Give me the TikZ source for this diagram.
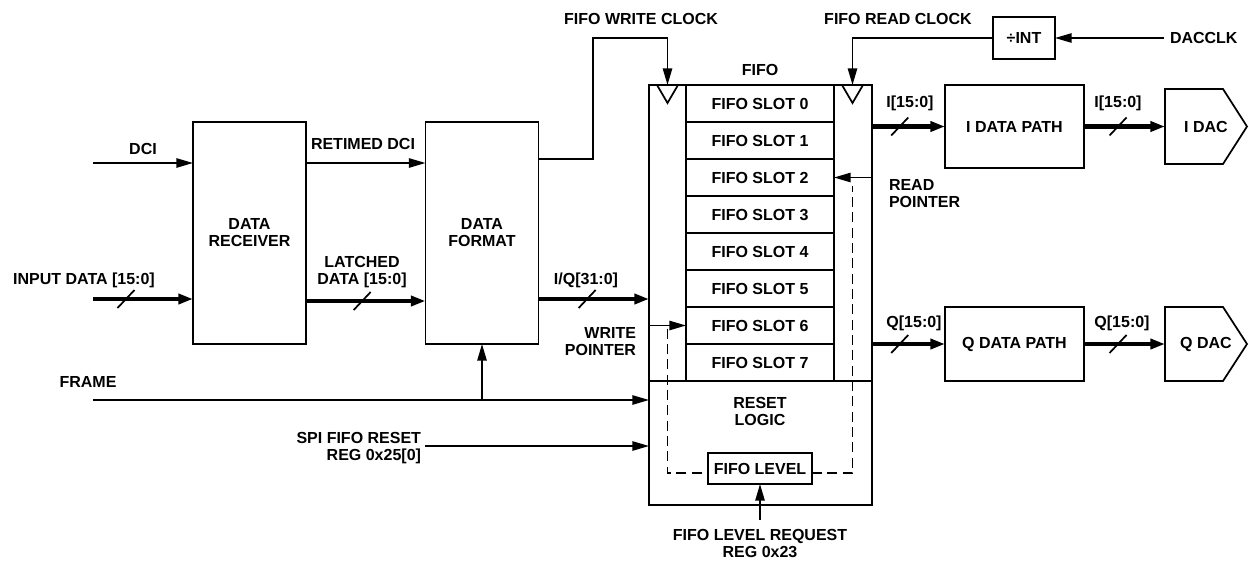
\documentclass[tikz,border=0pt]{standalone}
\usepackage{fontspec}
\setmainfont{Liberation Sans}
\usetikzlibrary{arrows.meta,calc}
\begin{document}
\begin{tikzpicture}[x=0.75pt,y=-0.75pt,
  every node/.style={font=\fontsize{12}{12.75}\selectfont\bfseries},
  box/.style={draw,line width=1.3pt,inner sep=0pt,outer sep=0pt,align=center},
  lbl/.style={inner sep=0pt,outer sep=0pt,align=center},
  ln/.style={line width=1.3pt},
  arr/.style={line width=1.3pt,-{Triangle[length=12.5pt,width=7pt]}},
  bus/.style={line width=3.6pt,-{Triangle[length=11pt,width=7.5pt]}},
  dsh/.style={line width=1.3pt,dash pattern=on 7.5pt off 4pt},
]
\useasboundingbox (0,0) rectangle (1249,561);

% ---- main blocks
\node[box,minimum width=84.75pt,minimum height=166.5pt] (drx) at (249.5,233) {DATA\\RECEIVER};
\node[box,minimum width=84.75pt,minimum height=166.5pt] (dfmt) at (482,233) {DATA\\FORMAT};
\node[box,minimum width=167.25pt,minimum height=315pt] (fifo) at (760.5,295) {};
\foreach \i in {0,...,7}
  \node[box,minimum width=111pt,minimum height=27.75pt] (slot\i) at (760,103.5+37*\i) {FIFO SLOT \i};
\draw[ln] (fifo.west |- slot7.south) -- (fifo.east |- slot7.south);
\node[lbl] (fifolbl) at (760,70) {FIFO};
\node[lbl] (rst) at (760,411) {RESET\\LOGIC};
\node[box,minimum width=78pt,minimum height=23.25pt] (lvl) at (760,468.5) {FIFO LEVEL};

% clock triangles
\coordinate (wck) at (667.5,85);
\coordinate (rck) at (852.5,85);
\draw[ln] ($(wck)+(-10.5,0)$) -- ($(wck)+(0,18)$) -- ($(wck)+(10.5,0)$);
\draw[ln] ($(rck)+(-10.5,0)$) -- ($(rck)+(0,18)$) -- ($(rck)+(10.5,0)$);

\node[box,minimum width=46.5pt,minimum height=31.5pt] (div) at (1024,38) {÷INT};
\node[box,minimum width=104.25pt,minimum height=62.25pt] (idp) at (1014.5,126.5) {I DATA PATH};
\node[box,minimum width=104.25pt,minimum height=55.5pt] (qdp) at (1014.5,344) {Q DATA PATH};

\node[lbl,minimum width=61.5pt,minimum height=56.25pt] (idac) at (1206,126.5) {I DAC};
\node[lbl,minimum width=61.5pt,minimum height=55.5pt] (qdac) at (1206,344) {Q DAC};
\draw[ln] (idac.north west) -- ($(idac.north east)+(-24,0)$) -- (idac.east) -- ($(idac.south east)+(-24,0)$) -- (idac.south west) -- cycle;
\draw[ln] (qdac.north west) -- ($(qdac.north east)+(-24,0)$) -- (qdac.east) -- ($(qdac.south east)+(-24,0)$) -- (qdac.south west) -- cycle;

% ---- free-end coordinates
\coordinate (dci) at (93,163);
\coordinate (ind) at (93,299);
\coordinate (frm) at (93,400);
\coordinate (spi) at (425,446);
\coordinate (wbend) at (593,38);
\coordinate (dck) at (1164,38);
\coordinate (flr) at (760,520);

% ---- connectors
\draw[arr] (dci) -- (dci -| drx.west);
\draw[arr] (drx.east |- dci) -- (dfmt.west |- dci);
\draw[bus] (ind) -- coordinate[pos=0.33] (s1) (ind -| drx.west);
\draw[bus] ($(drx.east)+(0,68)$) -- coordinate[pos=0.47] (s2) ($(dfmt.west)+(0,68)$);
\draw[bus] (dfmt.east |- ind) -- coordinate[pos=0.44] (s3) (fifo.west |- ind);
\draw[arr] ($(dfmt.north east)+(0,37)$) -| (wbend) -| (wck);
\draw[arr] (div.west) -| (rck);
\draw[arr] (dck) -- (div.east);
\draw[arr] (frm) -- (frm -| fifo.west);
\draw[arr] (frm -| dfmt.south) -- (dfmt.south);
\draw[arr] (spi) -- (spi -| fifo.west);
\draw[arr] (fifo.west |- slot6) -- (slot6.west);
\draw[arr] (fifo.east |- slot2) -- (slot2.east);
\draw[dsh] ($(wck |- slot6)+(0,3)$) |- ($(lvl.west)+(0,4.5)$);
\draw[dsh] ($(lvl.east)+(0,4.5)$) -| ($(rck |- slot2)+(0,8)$);
\draw[arr] (flr) -- (lvl.south);
\draw[bus] (fifo.east |- idp) -- coordinate[pos=0.38] (s4) (idp.west);
\draw[bus] (idp.east) -- coordinate[pos=0.42] (s5) (idac.west);
\draw[bus] (fifo.east |- qdp) -- coordinate[pos=0.38] (s6) (qdp.west);
\draw[bus] (qdp.east) -- coordinate[pos=0.42] (s7) (qdac.west);

% bus slashes
\foreach \s in {s1,s2,s3,s4,s5,s6,s7}
  \draw[ln] ($(\s)+(-8.5,9)$) -- ($(\s)+(8.5,-9)$);

% ---- labels
\node[lbl] (lwck) at (641,19) {FIFO WRITE CLOCK};
\node[lbl] (lrck) at (898,19) {FIFO READ CLOCK};
\node[lbl,anchor=west] (ldck) at (1170,38) {DACCLK};
\node[lbl] (ldci) at (143,149) {DCI};
\node[lbl] (lrdci) at (363,144) {RETIMED DCI};
\node[lbl] (lind) at (84,280) {INPUT DATA [15:0]};
\node[lbl] (llat) at (362,272) {LATCHED\\DATA [15:0]};
\node[lbl] (liq) at (586,280) {I/Q[31:0]};
\node[lbl,anchor=east,align=right] (lwp) at (636,342) {WRITE\\POINTER};
\node[lbl,anchor=west,align=left] (lrp) at (889,193.5) {READ\\POINTER};
\node[lbl] (lfrm) at (88,382) {FRAME};
\node[lbl,anchor=east,align=right] (lspi) at (421,448) {SPI FIFO RESET\\REG 0x25[0]};
\node[lbl] (lflr) at (760,543) {FIFO LEVEL REQUEST\\REG 0x23};
\node[lbl] (li1) at (910,103) {I[15:0]};
\node[lbl] (li2) at (1118,103) {I[15:0]};
\node[lbl] (lq1) at (914,323) {Q[15:0]};
\node[lbl] (lq2) at (1122,323) {Q[15:0]};
\end{tikzpicture}
\end{document}
